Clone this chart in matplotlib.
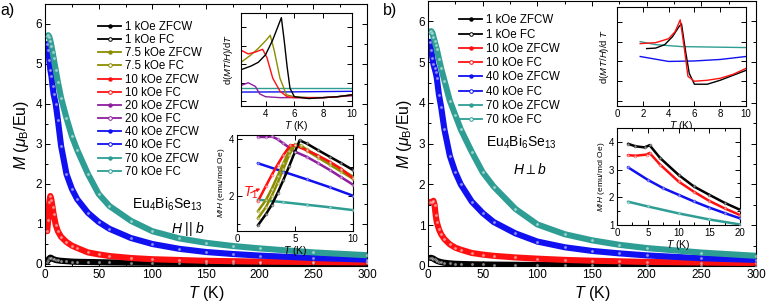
"""
Eu4Bi6Se13 magnetisation, H || b and H perp b, with dM T/H and M/H insets.
"""
import matplotlib
matplotlib.use("Agg")
import matplotlib.pyplot as plt
from matplotlib.lines import Line2D
from matplotlib.ticker import MultipleLocator, NullFormatter

plt.rcParams['font.family'] = ['Liberation Sans', 'DejaVu Sans']
plt.rcParams['mathtext.fontset'] = 'custom'
plt.rcParams['mathtext.rm'] = 'Liberation Sans'
plt.rcParams['mathtext.it'] = 'Liberation Sans:italic'
plt.rcParams['mathtext.bf'] = 'Liberation Sans:bold'

# ── colours ─────────────────────────────────────────────────────────────────
C_BLK = "#000000"
C_OLV = "#8C8C00"
C_RED = "#FF1010"
C_PUR = "#8E1F9E"
C_BLU = "#1010F0"
C_TEA = "#2E9E94"

# ── main panels: M (muB/Eu) vs T ────────────────────────────────────────────
T_MAIN = [2, 3, 4, 5, 6, 7, 8, 10, 12, 15, 20, 25, 30, 40, 50, 60,
          80, 100, 125, 150, 175, 200, 250, 300]

a_1k  = [0.06, 0.10, 0.14, 0.16, 0.15, 0.13, 0.12, 0.10, 0.09, 0.08, 0.07, 0.06,
         0.055, 0.05, 0.045, 0.04, 0.035, 0.03, 0.027, 0.024, 0.022, 0.02, 0.017, 0.015]
a_10k = [0.82, 1.10, 1.55, 1.70, 1.60, 1.42, 1.25, 0.98, 0.82, 0.68, 0.55, 0.46,
         0.40, 0.29, 0.24, 0.20, 0.15, 0.12, 0.10, 0.08, 0.07, 0.06, 0.05, 0.04]
a_40k = [5.50, 5.35, 5.10, 4.85, 4.70, 4.45, 4.25, 4.00, 3.60, 2.95, 2.25, 1.88,
         1.62, 1.28, 1.05, 0.88, 0.65, 0.50, 0.38, 0.30, 0.25, 0.21, 0.15, 0.11]
a_70k = [5.70, 5.72, 5.68, 5.58, 5.45, 5.30, 5.15, 4.85, 4.55, 4.15, 3.65, 3.20,
         2.85, 2.25, 1.75, 1.45, 1.08, 0.82, 0.64, 0.53, 0.45, 0.39, 0.29, 0.22]

b_1k  = [0.20, 0.20, 0.19, 0.18, 0.16, 0.145, 0.13, 0.11, 0.095, 0.08, 0.065, 0.055,
         0.05, 0.043, 0.038, 0.034, 0.029, 0.025, 0.022, 0.02, 0.018, 0.016, 0.013, 0.011]
b_10k = [1.57, 1.57, 1.58, 1.60, 1.50, 1.25, 1.08, 0.90, 0.78, 0.66, 0.53, 0.45,
         0.40, 0.32, 0.28, 0.25, 0.21, 0.18, 0.15, 0.13, 0.115, 0.10, 0.085, 0.07]
b_40k = [5.50, 5.30, 5.10, 4.95, 4.85, 4.75, 4.62, 4.20, 3.90, 3.35, 2.70, 2.30,
         2.00, 1.58, 1.30, 1.08, 0.80, 0.60, 0.46, 0.37, 0.31, 0.26, 0.19, 0.15]
b_70k = [5.75, 5.76, 5.72, 5.62, 5.52, 5.42, 5.32, 5.08, 4.85, 4.55, 4.05, 3.70,
         3.35, 2.80, 2.30, 1.95, 1.40, 1.02, 0.78, 0.63, 0.52, 0.44, 0.33, 0.25]

FIELDS_A = ["1", "7.5", "10", "20", "40", "70"]
COLS_A   = [C_BLK, C_OLV, C_RED, C_PUR, C_BLU, C_TEA]
FIELDS_B = ["1", "10", "40", "70"]
COLS_B   = [C_BLK, C_RED, C_BLU, C_TEA]

# ── inset a, top: d(MT/H)/dT (arb.) ─────────────────────────────────────────
ia_T_blk = [2.3, 3.0, 3.5, 4.0, 4.5, 4.8, 5.1, 5.3, 5.5, 5.7, 6.0, 7.0, 8.0, 9.0, 10.0]
ia_blk   = [0.39, 0.43, 0.47, 0.55, 0.71, 0.83, 0.95, 0.70, 0.42, 0.19, 0.10, 0.08, 0.09, 0.10, 0.12]
ia_T_olv = [2.3, 3.0, 3.5, 4.0, 4.33, 4.6, 5.0, 5.45, 6.0, 7.0, 8.0, 9.0, 10.0]
ia_olv   = [0.47, 0.55, 0.62, 0.70, 0.76, 0.60, 0.30, 0.12, 0.10, 0.09, 0.09, 0.10, 0.12]
ia_T_red = [2.3, 2.8, 3.3, 3.8, 4.1, 4.5, 5.0, 5.5, 6.0, 7.0, 8.0, 9.0, 10.0]
ia_red   = [0.60, 0.56, 0.58, 0.61, 0.52, 0.30, 0.16, 0.10, 0.09, 0.09, 0.09, 0.10, 0.12]
ia_T_pur = [2.3, 2.8, 3.3, 3.6, 4.0, 5.0, 6.0, 8.0, 10.0]
ia_pur   = [0.22, 0.25, 0.21, 0.13, 0.10, 0.09, 0.09, 0.09, 0.11]
ia_T_blu = [2.3, 6.0, 10.0]
ia_blu   = [0.150, 0.152, 0.158]
ia_T_tea = [2.3, 6.0, 10.0]
ia_tea   = [0.19, 0.19, 0.19]

# ── inset a, bottom: M/H (emu/mol Oe) ───────────────────────────────────────
ib_T_blk = [1.8, 2.5, 3.0, 3.5, 4.0, 4.5, 5.0, 5.4, 6.0, 7.0, 8.0, 9.0, 10.0]
ib_blk   = [0.95, 1.35, 1.68, 2.10, 2.56, 3.05, 3.56, 3.96, 3.85, 3.61, 3.38, 3.15, 2.91]
ib_T_olv = [1.8, 2.5, 3.0, 3.5, 4.0, 4.5, 5.0, 5.5, 6.0, 7.0, 8.0, 9.0, 10.0]
ib_olv_z = [1.20, 1.60, 2.00, 2.45, 2.95, 3.45, 3.80, 3.75, 3.60, 3.35, 3.10, 2.85, 2.60]
ib_olv_f = [1.45, 1.85, 2.25, 2.70, 3.15, 3.60, 3.82, 3.78, 3.64, 3.40, 3.16, 2.92, 2.68]
ib_T_red = [1.8, 2.5, 3.0, 3.5, 4.0, 4.6, 5.0, 6.0, 7.0, 8.0, 9.0, 10.0]
ib_red   = [1.80, 2.35, 2.74, 3.10, 3.44, 3.79, 3.78, 3.61, 3.42, 3.20, 2.95, 2.62]
ib_T_pur = [1.8, 2.5, 3.0, 3.5, 4.0, 5.0, 6.0, 7.0, 8.0, 9.0, 10.0]
ib_pur   = [4.08, 4.08, 4.10, 4.00, 3.85, 3.56, 3.38, 3.15, 2.91, 2.65, 2.39]
ib_T_blu = [1.8, 4.0, 6.0, 8.0, 10.0]
ib_blu   = [3.15, 2.85, 2.58, 2.30, 2.00]
ib_T_tea = [1.8, 4.0, 6.0, 8.0, 10.0]
ib_tea   = [1.86, 1.77, 1.68, 1.59, 1.49]

# ── inset b, top: d(MT/H)/dT (arb.) ─────────────────────────────────────────
ic_T_blk = [2.3, 3.0, 3.7, 4.3, 4.8, 5.0, 5.3, 5.6, 6.0, 7.0, 8.0, 9.0, 10.0]
ic_blk   = [0.58, 0.585, 0.62, 0.70, 0.80, 0.83, 0.565, 0.33, 0.22, 0.22, 0.26, 0.31, 0.36]
ic_T_red = [1.8, 3.0, 4.0, 4.5, 4.9, 5.2, 5.5, 6.0, 7.0, 8.0, 9.0, 10.0]
ic_red   = [0.63, 0.64, 0.68, 0.75, 0.87, 0.60, 0.30, 0.25, 0.26, 0.28, 0.32, 0.38]
ic_T_blu = [1.8, 4.0, 6.0, 8.0, 10.0]
ic_blu   = [0.50, 0.45, 0.455, 0.47, 0.50]
ic_T_tea = [1.8, 3.0, 5.0, 7.5, 10.0]
ic_tea   = [0.65, 0.62, 0.60, 0.595, 0.59]

# ── inset b, bottom: M/H (emu/mol Oe) ───────────────────────────────────────
id_T_blk = [1.8, 3.0, 4.5, 5.3, 7.0, 10.0, 12.5, 15.0, 17.5, 20.0]
id_blk   = [3.93, 3.84, 3.80, 3.88, 3.42, 2.81, 2.39, 2.09, 1.80, 1.55]
id_T_red = [1.8, 3.0, 4.8, 5.3, 7.0, 10.0, 12.5, 15.0, 17.5, 20.0]
id_red   = [3.52, 3.50, 3.54, 3.60, 3.18, 2.57, 2.20, 1.87, 1.60, 1.36]
id_T_blu = [1.8, 5.0, 7.5, 10.0, 12.5, 15.0, 17.5, 20.0]
id_blu   = [3.08, 2.63, 2.33, 2.09, 1.85, 1.63, 1.43, 1.24]
id_T_tea = [1.8, 5.0, 10.0, 15.0, 20.0]
id_tea   = [1.84, 1.67, 1.42, 1.20, 1.02]


# ── helpers ─────────────────────────────────────────────────────────────────
def style_ticks(ax, size=8):
    ax.tick_params(which="both", direction="in", top=True, right=True,
                   labelsize=size, width=0.7, pad=2)
    ax.tick_params(which="major", length=3.5)
    ax.tick_params(which="minor", length=2)
    for s in ax.spines.values():
        s.set_linewidth(0.8)


def band(ax, T, vals, col, lw=4.4, ms=2.4):
    ax.plot(T, vals, "-", color=col, lw=lw, solid_capstyle="round", zorder=2)
    ax.plot(T, vals, "o", mfc="white", mec=col, ms=ms, mew=0.6, alpha=0.55, zorder=3)


def thin(ax, T, vals, col, lw=1.0):
    ax.plot(T, vals, "-", color=col, lw=lw, zorder=2)


def legend_handles(fields, cols):
    hs, labs = [], []
    for f, c in zip(fields, cols):
        hs.append(Line2D([0], [0], color=c, lw=1.3, marker="o", ms=2.2, mfc=c, mec=c))
        labs.append(f"{f} kOe ZFCW")
        hs.append(Line2D([0], [0], color=c, lw=1.3, marker="o", ms=2.6, mfc="white", mec=c, mew=0.7))
        labs.append(f"{f} kOe FC")
    return hs, labs


def main_axes(rect, ylo):
    ax = fig.add_axes(rect)
    ax.set_xlim(0, 300)
    ax.set_ylim(ylo, 6.5)
    ax.xaxis.set_major_locator(MultipleLocator(50))
    ax.xaxis.set_minor_locator(MultipleLocator(25))
    ax.yaxis.set_major_locator(MultipleLocator(1))
    ax.yaxis.set_minor_locator(MultipleLocator(0.5))
    style_ticks(ax, 8.5)
    ax.set_xlabel(r"$T$ (K)", fontsize=11.5, labelpad=2)
    ax.set_ylabel(r"$M$ ($\mu_{\mathrm{B}}$/Eu)", fontsize=11.5, labelpad=3)
    return ax


fig = plt.figure(figsize=(7.66, 3.04), dpi=100)
fig.patch.set_facecolor("white")

# ═══════════════════════════════════════════════════════════════════════════
# PANEL a
# ═══════════════════════════════════════════════════════════════════════════
axa = main_axes([45/766, 1 - 266/304, 322/766, 262/304], -0.05)
band(axa, T_MAIN, a_1k, C_BLK)
band(axa, T_MAIN, a_10k, C_RED)
band(axa, T_MAIN, a_40k, C_BLU)
band(axa, T_MAIN, a_70k, C_TEA)
hs, labs = legend_handles(FIELDS_A, COLS_A)
axa.legend(hs, labs, loc="upper left", bbox_to_anchor=(0.165, 0.935), frameon=False,
           fontsize=8.3, handlelength=2.0, handletextpad=0.3, labelspacing=0.1,
           borderaxespad=0, borderpad=0)
axa.text(0.38, 0.235, r"Eu$_4$Bi$_6$Se$_{13}$", transform=axa.transAxes,
         fontsize=10, ha="center", va="center")
axa.text(0.445, 0.14, r"$H$ || $b$", transform=axa.transAxes,
         fontsize=10, ha="center", va="center")
fig.text(0.0, 1 - 10/304, "a)", fontsize=11.5, ha="left", va="center")

# inset a top
ia = fig.add_axes([241/766, 1 - 106/304, 111/766, 93/304])
thin(ia, ia_T_tea, ia_tea, C_TEA)
thin(ia, ia_T_blu, ia_blu, C_BLU)
thin(ia, ia_T_pur, ia_pur, C_PUR)
thin(ia, ia_T_olv, ia_olv, C_OLV)
thin(ia, ia_T_red, ia_red, C_RED)
thin(ia, ia_T_blk, ia_blk, C_BLK)
ia.set_xlim(2.3, 10)
ia.set_ylim(0, 1)
ia.set_xticks([4, 6, 8, 10])
ia.set_yticks([0.05, 0.25, 0.45, 0.65, 0.85])
ia.yaxis.set_major_formatter(NullFormatter())
style_ticks(ia, 7)
ia.set_xlabel(r"$T$ (K)", fontsize=7.5, labelpad=0)
ia.set_ylabel(r"d($MT/H$)/d$T$", fontsize=6.8, labelpad=2)

# inset a bottom
ib = fig.add_axes([237/766, 1 - 231/304, 116/766, 96/304])
for T_, v_, c_ in [(ib_T_tea, ib_tea, C_TEA), (ib_T_blu, ib_blu, C_BLU),
                   (ib_T_pur, ib_pur, C_PUR), (ib_T_olv, ib_olv_z, C_OLV),
                   (ib_T_olv, ib_olv_f, C_OLV), (ib_T_red, ib_red, C_RED),
                   (ib_T_blk, ib_blk, C_BLK)]:
    band(ib, T_, v_, c_, lw=1.8, ms=2.0)
ib.set_xlim(0, 10)
ib.set_ylim(0.75, 4.15)
ib.set_xticks([0, 5, 10])
ib.set_yticks([2, 4])
ib.yaxis.set_minor_locator(MultipleLocator(1))
style_ticks(ib, 7)
ib.set_xlabel(r"$T$ (K)", fontsize=7.5, labelpad=0)
ib.set_ylabel(r"$M/H$ (emu/mol Oe)", fontsize=6, labelpad=1)
ib.annotate(r"$T_1$", xy=(2.0, 2.25), xytext=(0.5, 2.1), color=C_RED,
            fontsize=10, ha="left", va="center",
            arrowprops=dict(arrowstyle="-|>", color=C_RED, lw=0.7,
                            mutation_scale=5, shrinkA=0, shrinkB=0))

# ═══════════════════════════════════════════════════════════════════════════
# PANEL b
# ═══════════════════════════════════════════════════════════════════════════
axb = main_axes([428/766, 1 - 266/304, 328/766, 265/304], 0)
band(axb, T_MAIN, b_1k, C_BLK)
band(axb, T_MAIN, b_10k, C_RED)
band(axb, T_MAIN, b_40k, C_BLU)
band(axb, T_MAIN, b_70k, C_TEA)
hs, labs = legend_handles(FIELDS_B, COLS_B)
axb.legend(hs, labs, loc="upper left", bbox_to_anchor=(0.095, 0.95), frameon=False,
           fontsize=8.3, handlelength=2.0, handletextpad=0.3, labelspacing=0.2,
           borderaxespad=0, borderpad=0)
axb.text(0.285, 0.465, r"Eu$_4$Bi$_6$Se$_{13}$", transform=axb.transAxes,
         fontsize=10, ha="center", va="center")
axb.text(0.31, 0.365, r"$H\perp b$", transform=axb.transAxes,
         fontsize=10, ha="center", va="center")
fig.text(383/766, 1 - 10/304, "b)", fontsize=11.5, ha="left", va="center")

# inset b top
ic = fig.add_axes([617/766, 1 - 106/304, 129/766, 99/304])
thin(ic, ic_T_blu, ic_blu, C_BLU)
thin(ic, ic_T_tea, ic_tea, C_TEA)
thin(ic, ic_T_blk, ic_blk, C_BLK)
thin(ic, ic_T_red, ic_red, C_RED)
ic.set_xlim(0, 10)
ic.set_ylim(0, 1)
ic.set_xticks([0, 2, 4, 6, 8, 10])
ic.set_yticks([0.05, 0.25, 0.45, 0.65, 0.85])
ic.yaxis.set_major_formatter(NullFormatter())
style_ticks(ic, 7)
ic.set_xlabel(r"$T$ (K)", fontsize=7.5, labelpad=0)
ic.set_ylabel(r"d($M\,T/H$)/d $T$", fontsize=6.8, labelpad=2)

# inset b bottom
idd = fig.add_axes([617/766, 1 - 225/304, 123/766, 97/304])
for T_, v_, c_ in [(id_T_tea, id_tea, C_TEA), (id_T_blu, id_blu, C_BLU),
                   (id_T_red, id_red, C_RED), (id_T_blk, id_blk, C_BLK)]:
    band(idd, T_, v_, c_, lw=1.8, ms=2.0)
idd.set_xlim(0, 20)
idd.set_ylim(1, 4.5)
idd.set_xticks([0, 5, 10, 15, 20])
idd.set_yticks([1, 2, 3, 4])
idd.xaxis.set_minor_locator(MultipleLocator(2.5))
idd.yaxis.set_minor_locator(MultipleLocator(0.5))
style_ticks(idd, 7)
idd.set_xlabel(r"$T$ (K)", fontsize=7.5, labelpad=0)
idd.set_ylabel(r"$M/H$ (emu/mol Oe)", fontsize=6, labelpad=1)

fig.savefig("out.png", dpi=100, facecolor="white")
